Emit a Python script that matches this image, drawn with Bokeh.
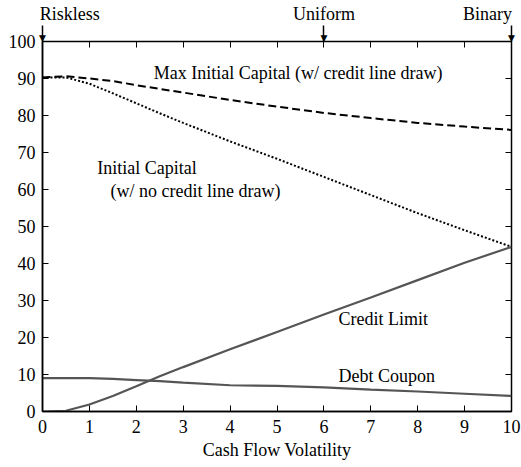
from bokeh.plotting import figure
from bokeh.models import LinearAxis, FixedTicker, Label, Range1d
from bokeh.embed import file_html
from bokeh.resources import INLINE

x = [0, 0.5, 1, 1.5, 2, 2.5, 3, 4, 5, 6, 7, 8, 9, 10]
max_initial_capital = [90.3, 90.6, 90.0, 89.3, 88.2, 87.2, 86.2, 84.2, 82.4, 80.7, 79.3, 78.0, 77.0, 76.1]
initial_capital = [90.3, 90.3, 88.6, 86.0, 83.3, 80.6, 78.0, 73.0, 68.3, 63.4, 58.5, 53.6, 49.0, 44.5]
credit_limit = [0.0, 0.2, 1.9, 4.2, 6.8, 9.5, 12.0, 16.8, 21.5, 26.2, 30.8, 35.5, 40.2, 44.5]
debt_coupon = [9.0, 9.0, 9.0, 8.8, 8.5, 8.2, 7.8, 7.1, 6.9, 6.5, 5.9, 5.4, 4.8, 4.2]

x_ticks = list(range(0, 11))
y_ticks = list(range(0, 101, 10))
top_marks = [0, 6, 10]
top_names = ["Riskless", "Uniform", "Binary"]
# where each name is centred (Riskless sits right of its arrow, Binary left of it)
top_name_pos = [0.58, 6.0, 9.49]

FONT = "Liberation Serif"
FS = "18px"

p = figure(width=521, height=467, output_backend="svg", toolbar_location=None,
           x_range=Range1d(0, 10), y_range=Range1d(0, 100),
           frame_width=469, frame_height=370,
           min_border_left=42, min_border_top=41, min_border_bottom=56, min_border_right=10,
           x_axis_label="Cash Flow Volatility")
p.grid.visible = False
p.outline_line_color = "black"
p.outline_line_width = 1.5

for ax in p.xaxis + p.yaxis:
    ax.major_tick_in = 6
    ax.major_tick_out = 0
    ax.minor_tick_line_color = None
    ax.axis_line_width = 1.5
    ax.major_label_text_font = FONT
    ax.major_label_text_font_size = FS
    ax.major_label_text_color = "black"
    ax.axis_label_text_font = FONT
    ax.axis_label_text_font_size = FS
    ax.axis_label_text_font_style = "normal"
    ax.axis_label_text_color = "black"
p.xaxis.ticker = FixedTicker(ticks=x_ticks)
p.yaxis.ticker = FixedTicker(ticks=y_ticks)
p.xaxis.major_label_standoff = 8
p.yaxis.major_label_standoff = 7
p.xaxis.axis_label_standoff = 4

right = LinearAxis(ticker=FixedTicker(ticks=y_ticks), major_label_text_font_size="0px",
                   major_tick_in=6, major_tick_out=0, minor_tick_line_color=None,
                   axis_line_color=None)
p.add_layout(right, "right")

# top edge: inward ticks (minor) + arrow shafts (major) with arrowheads as labels
arrows = LinearAxis(ticker=FixedTicker(ticks=top_marks, minor_ticks=x_ticks),
                    major_tick_in=0, major_tick_out=16, major_tick_line_width=1.5,
                    minor_tick_in=6, minor_tick_out=0, minor_tick_line_color="black",
                    axis_line_color=None,
                    major_label_text_font="DejaVu Sans", major_label_text_font_size="9px",
                    major_label_text_color="black", major_label_standoff=-17,
                    major_label_overrides={m: "\u25BC" for m in top_marks})
p.add_layout(arrows, "above")

names = LinearAxis(ticker=FixedTicker(ticks=top_name_pos), major_tick_in=0, major_tick_out=0,
                   minor_tick_line_color=None, major_tick_line_color=None, axis_line_color=None,
                   major_label_text_font=FONT, major_label_text_font_size=FS,
                   major_label_text_color="black", major_label_standoff=6,
                   major_label_overrides={m: n for m, n in zip(top_name_pos, top_names)})
p.add_layout(names, "above")

p.line(x, max_initial_capital, line_color="black", line_width=2, line_dash="8 4")
p.line(x, initial_capital, line_color="black", line_width=2, line_dash="2 2")
p.line(x, credit_limit, line_color="#555555", line_width=2.2)
p.line(x, debt_coupon, line_color="#555555", line_width=2.2)

def lab(xv, yv, t, align="left"):
    p.add_layout(Label(x=xv, y=yv, text=t, text_font=FONT, text_font_size=FS,
                       text_baseline="middle", text_align=align, text_color="black"))

lab(2.37, 91.6, "Max Initial Capital (w/ credit line draw)")
lab(1.17, 65.7, "Initial Capital")
lab(1.45, 59.7, "(w/ no credit line draw)")
lab(6.31, 25.1, "Credit Limit")
lab(6.31, 9.5, "Debt Coupon")

open("out.html", "w").write(file_html(p, INLINE))
